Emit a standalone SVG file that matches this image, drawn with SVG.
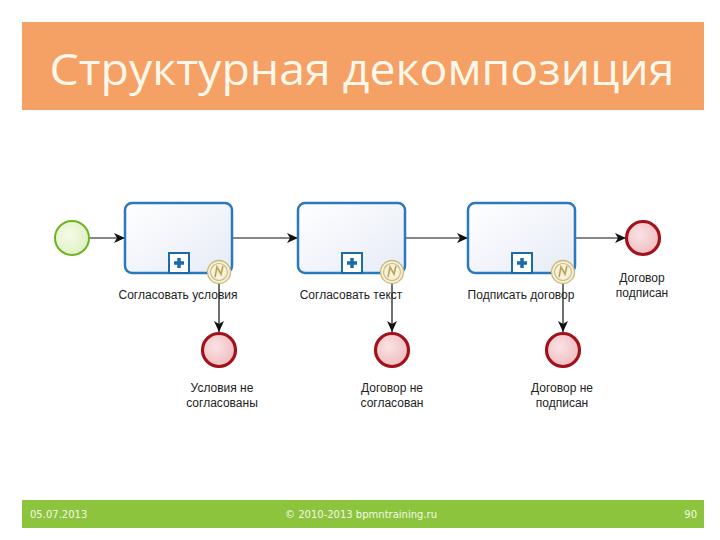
<svg xmlns="http://www.w3.org/2000/svg" width="720" height="540" viewBox="0 0 720 540">
<style>
.lbl{font-family:"Liberation Sans","DejaVu Sans",sans-serif;font-size:12px;fill:#222;text-anchor:middle}
.task{fill:url(#gTask);stroke:#2a78bd;stroke-width:2.5}
.end{fill:url(#gEnd);stroke:#a3121b;stroke-width:3.2}
.bnd{fill:#f6f1d8;stroke:#c8b87a;stroke-width:1.3}
.conn{stroke:#111;stroke-width:1.2;fill:none;marker-end:url(#arr)}
.foot{font-family:"DejaVu Sans",sans-serif;font-size:10px;fill:#f4f9ea}
</style>
<defs>
<linearGradient id="gTask" x1="0" y1="0" x2="1" y2="1"><stop offset="0" stop-color="#ffffff"/><stop offset="1" stop-color="#e6ebf6"/></linearGradient>
<radialGradient id="gEnd" cx="0.4" cy="0.4" r="0.7"><stop offset="0" stop-color="#fbe3e4"/><stop offset="1" stop-color="#eeb8bc"/></radialGradient>
<radialGradient id="gStart" cx="0.4" cy="0.4" r="0.7"><stop offset="0" stop-color="#f6fbe9"/><stop offset="1" stop-color="#dcefc0"/></radialGradient>
<marker id="arr" markerWidth="12" markerHeight="10" refX="11" refY="5" orient="auto" markerUnits="userSpaceOnUse"><path d="M0,0 L11,5 L0,10 L3,5 Z" fill="#111"/></marker>
<g id="bmark"><circle r="11.5" class="bnd"/><circle r="8.5" fill="none" stroke="#c8b87a" stroke-width="1.1"/><path d="M-4,5 L-2,-5 L2,2 L4,-6" fill="none" stroke="#b9a35e" stroke-width="1.6"/></g>
<g id="plus"><rect x="-10" y="-10" width="20" height="20" fill="#fff" stroke="#1d6aa8" stroke-width="2"/><path d="M-5,0 H5 M0,-5 V5" stroke="#1d6aa8" stroke-width="3.5"/></g>
</defs>
<rect width="720" height="540" fill="#fff"/>
<g id="header"><rect x="22" y="22" width="682" height="88" fill="#f5a064"/><text x="362" y="85" text-anchor="middle" font-family="Open Sans,DejaVu Sans,sans-serif" font-size="43" fill="#fff8ea" textLength="625" lengthAdjust="spacingAndGlyphs">Структурная декомпозиция</text></g>
<g id="footer"><rect x="22" y="500" width="682" height="28" fill="#8cc43d"/><text class="foot" x="30" y="518">05.07.2013</text><text class="foot" x="285" y="518">© 2010-2013 bpmntraining.ru</text><text class="foot" x="697" y="518" text-anchor="end">90</text></g>
<g id="connectors">
<path class="conn" d="M90,238 H125"/>
<path class="conn" d="M232,238 H298"/>
<path class="conn" d="M405,238 H468"/>
<path class="conn" d="M575,238 H626"/>
<path class="conn" d="M219,284 V332"/>
<path class="conn" d="M392,284 V332"/>
<path class="conn" d="M563,284 V332"/>
</g>
<g id="start"><circle cx="72" cy="238" r="17" fill="url(#gStart)" stroke="#6db41f" stroke-width="2"/></g>
<g id="task1"><rect class="task" x="125" y="203" width="107" height="70" rx="7"/><use href="#plus" x="179" y="263"/><text class="lbl" x="178" y="299">Согласовать условия</text></g>
<g id="b1"><use href="#bmark" x="219" y="272"/></g>
<g id="task2"><rect class="task" x="298" y="203" width="107" height="70" rx="7"/><use href="#plus" x="352" y="263"/><text class="lbl" x="351" y="299">Согласовать текст</text></g>
<g id="b2"><use href="#bmark" x="392" y="272"/></g>
<g id="task3"><rect class="task" x="468" y="203" width="107" height="70" rx="7"/><use href="#plus" x="522" y="263"/><text class="lbl" x="521" y="299">Подписать договор</text></g>
<g id="b3"><use href="#bmark" x="563" y="272"/></g>
<g id="endOk"><circle class="end" cx="643" cy="238" r="16.5"/><text class="lbl" x="642" y="282">Договор</text><text class="lbl" x="642" y="297">подписан</text></g>
<g id="end1"><circle class="end" cx="219" cy="350" r="16.5"/><text class="lbl" x="222" y="392">Условия не</text><text class="lbl" x="222" y="407">согласованы</text></g>
<g id="end2"><circle class="end" cx="392" cy="350" r="16.5"/><text class="lbl" x="392" y="392">Договор не</text><text class="lbl" x="392" y="407">согласован</text></g>
<g id="end3"><circle class="end" cx="563" cy="350" r="16.5"/><text class="lbl" x="562" y="392">Договор не</text><text class="lbl" x="562" y="407">подписан</text></g>
</svg>
